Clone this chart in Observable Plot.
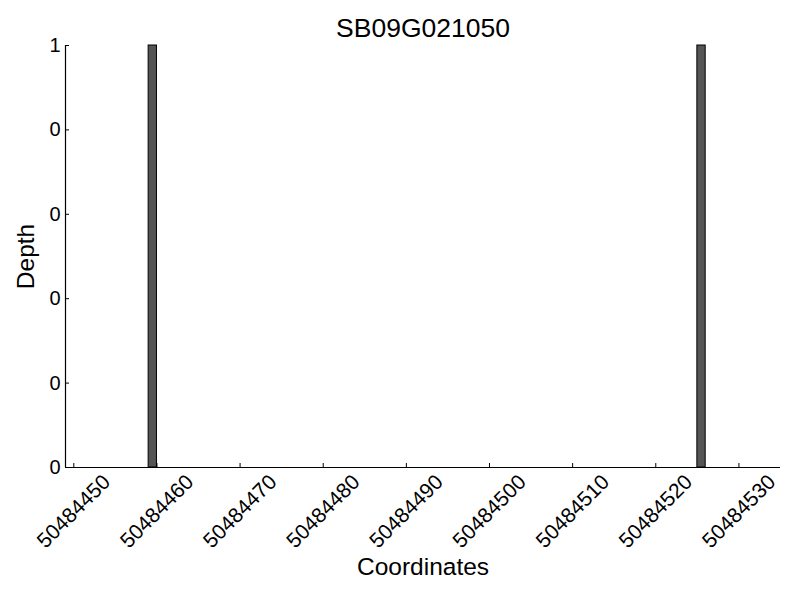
<!DOCTYPE html>
<html>
<head>
<meta charset="utf-8">
<script src="https://cdn.jsdelivr.net/npm/d3@7"></script>
<script src="https://cdn.jsdelivr.net/npm/@observablehq/plot@0.6"></script>
<style>
  html, body { margin: 0; padding: 0; background: white; }
</style>
</head>
<body>
<div id="chart"></div>
<script>
const title = "SB09G021050";
const xLabel = "Coordinates";
const yLabel = "Depth";
const binStart = [50484459, 50484525];
const depth = [1, 1];
const xDomain = [50484449, 50484535];
const xTicks = [50484450, 50484460, 50484470, 50484480, 50484490, 50484500, 50484510, 50484520, 50484530];
const yTicks = [0, 0.2, 0.4, 0.6, 0.8, 1];
const yTickLabels = ["0", "0", "0", "0", "0", "1"];

const bars = binStart.map((s, i) => ({start: s, depth: depth[i]}));

const W = 800, H = 600;
const mT = 45, mB = 133, mL = 65, mR = 20;
const frameW = W - mL - mR, frameH = H - mT - mB;
const font = "'Liberation Sans', Arial, Helvetica, sans-serif";

const plot = Plot.plot({
  width: W,
  height: H,
  marginTop: mT,
  marginBottom: mB,
  marginLeft: mL,
  marginRight: mR,
  style: {fontFamily: font, background: "white", color: "black"},
  x: {domain: xDomain, axis: null},
  y: {domain: [0, 1], axis: null},
  marks: [
    Plot.rectY(bars, {x1: d => d.start, x2: d => d.start + 1, y1: 0, y2: d => d.depth, fill: "#555555", stroke: "black", strokeWidth: 1}),
    Plot.ruleY([0], {stroke: "black", strokeWidth: 1.2}),
    Plot.ruleX([xDomain[0]], {stroke: "black", strokeWidth: 1.2}),
    Plot.tickX(xTicks, {x: d => d, insetTop: frameH - 4, stroke: "black", strokeWidth: 1}),
    Plot.tickY(yTicks, {y: d => d, insetRight: frameW - 4, stroke: "black", strokeWidth: 1}),
    Plot.text(xTicks, {x: d => d, text: d => String(d), frameAnchor: "bottom", dy: 44, rotate: -45, textAnchor: "middle", lineAnchor: "middle", fontSize: 21, fill: "black"}),
    Plot.text(yTicks, {y: d => d, text: (d, i) => yTickLabels[i], frameAnchor: "left", dx: -5, textAnchor: "end", lineAnchor: "middle", fontSize: 20, fill: "black"}),
    Plot.text([title], {text: d => d, frameAnchor: "top", dy: -17, textAnchor: "middle", lineAnchor: "middle", fontSize: 26.5, fill: "black"}),
    Plot.text([xLabel], {text: d => d, frameAnchor: "bottom", dy: 100, textAnchor: "middle", lineAnchor: "middle", fontSize: 24.5, fill: "black"}),
    Plot.text([yLabel], {text: d => d, frameAnchor: "left", dx: -39, rotate: -90, textAnchor: "middle", lineAnchor: "middle", fontSize: 24.5, fill: "black"})
  ]
});
document.getElementById("chart").appendChild(plot);
</script>
</body>
</html>
